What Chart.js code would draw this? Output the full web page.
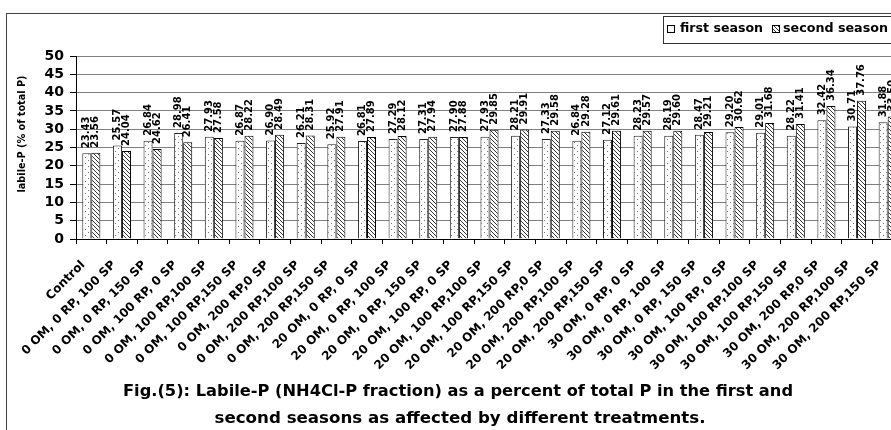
<!DOCTYPE html>
<html><head><meta charset="utf-8">
<script src="https://cdn.jsdelivr.net/npm/chart.js@4.4.1/dist/chart.umd.min.js"></script>
<style>html,body{margin:0;padding:0;overflow:hidden;background:#fff;width:891px;height:430px}canvas{display:block}</style>
</head><body>
<canvas id="c" width="912" height="440"></canvas>
<script>
const categories = [
  'Control',
  '0 OM, 0 RP, 100 SP','0 OM, 0 RP, 150 SP','0 OM, 100 RP, 0 SP','0 OM, 100 RP,100 SP','0 OM, 100 RP,150 SP',
  '0 OM, 200 RP,0 SP','0 OM, 200 RP,100 SP','0 OM, 200 RP,150 SP',
  '20 OM, 0 RP, 0 SP','20 OM, 0 RP, 100 SP','20 OM, 0 RP, 150 SP','20 OM, 100 RP, 0 SP','20 OM, 100 RP,100 SP',
  '20 OM, 100 RP,150 SP','20 OM, 200 RP,0 SP','20 OM, 200 RP,100 SP','20 OM, 200 RP,150 SP',
  '30 OM, 0 RP, 0 SP','30 OM, 0 RP, 100 SP','30 OM, 0 RP, 150 SP','30 OM, 100 RP, 0 SP','30 OM, 100 RP,100 SP',
  '30 OM, 100 RP,150 SP','30 OM, 200 RP,0 SP','30 OM, 200 RP,100 SP','30 OM, 200 RP,150 SP'
];
const firstSeason = [23.43, 25.57, 26.84, 28.98, 27.93, 26.87, 26.90, 26.21, 25.92, 26.81, 27.29, 27.31, 27.90, 27.93, 28.21,
  27.33, 26.84, 27.12, 28.23, 28.19, 28.47, 29.20, 29.01, 28.22, 32.42, 30.71, 31.88];
const secondSeason = [23.56, 24.04, 24.62, 26.41, 27.58, 28.22, 28.49, 28.31, 27.91, 27.89, 28.12, 27.94, 27.88, 29.85, 29.91,
  29.58, 29.28, 29.61, 29.57, 29.60, 29.21, 30.62, 31.68, 31.41, 36.34, 37.76, 33.50];
const seriesNames = ['first season', 'second season'];
const yAxisTitle = 'labile-P (% of total P)';
const captionLines = [
  'Fig.(5): Labile-P (NH4Cl-P fraction) as a percent of total P in the first and',
  'second seasons as affected by different treatments.'
];
const yMin = 0, yMax = 50, yStep = 5;

function makeDots() {
  const c = document.createElement('canvas'); c.width = 6; c.height = 6;
  const g = c.getContext('2d');
  g.fillStyle = '#fff'; g.fillRect(0, 0, 6, 6);
  g.fillStyle = '#777'; g.fillRect(1, 1, 1, 1); g.fillRect(4, 4, 1, 1);
  return g.createPattern(c, 'repeat');
}
function makeHatch() {
  const c = document.createElement('canvas'); c.width = 4; c.height = 4;
  const g = c.getContext('2d');
  g.fillStyle = '#fff'; g.fillRect(0, 0, 4, 4);
  g.fillStyle = '#333';
  for (let i = 0; i < 4; i++) g.fillRect(i, i, 1, 1);
  return g.createPattern(c, 'repeat');
}
const dotFill = makeDots();
const hatchFill = makeHatch();
const FONT = "'DejaVu Sans', 'Liberation Sans', Arial, sans-serif";

function stretchText(ctx, text, x, y, width, align) {
  const w = ctx.measureText(text).width;
  const sx = width / w;
  ctx.save();
  ctx.translate(x, y);
  ctx.scale(sx, 1);
  ctx.textAlign = align;
  ctx.fillText(text, 0, 0);
  ctx.restore();
}

const decorPlugin = {
  id: 'decor',
  beforeDraw(chart) {
    const ctx = chart.ctx;
    ctx.save();
    ctx.fillStyle = '#fff';
    ctx.fillRect(0, 0, chart.width, chart.height);
    ctx.strokeStyle = '#444';
    ctx.lineWidth = 1;
    ctx.strokeRect(6.5, 13.5, 900, 440);
    ctx.restore();
  },
  afterDatasetsDraw(chart) {
    const ctx = chart.ctx;
    ctx.save();
    ctx.fillStyle = '#000';
    ctx.font = 'bold 10px ' + FONT;
    ctx.textAlign = 'left';
    ctx.textBaseline = 'middle';
    chart.data.datasets.forEach((ds, di) => {
      const meta = chart.getDatasetMeta(di);
      meta.data.forEach((el, i) => {
        ctx.save();
        ctx.translate(el.x, el.y - 5);
        ctx.rotate(-Math.PI / 2);
        ctx.fillText(ds.data[i].toFixed(2), 0, 0);
        ctx.restore();
      });
    });
    ctx.restore();
  },
  afterDraw(chart) {
    const ctx = chart.ctx;
    ctx.save();
    ctx.fillStyle = '#000';
    ctx.font = 'bold 11px ' + FONT;
    ctx.textBaseline = 'middle';
    ctx.translate(22, 134);
    ctx.rotate(-Math.PI / 2);
    stretchText(ctx, yAxisTitle, 0, 0, 117, 'center');
    ctx.restore();

    // legend
    ctx.save();
    ctx.strokeStyle = '#333';
    ctx.lineWidth = 1;
    ctx.strokeRect(663.5, 16.5, 260, 27);
    ctx.font = 'bold 13px ' + FONT;
    ctx.textBaseline = 'middle';
    const items = [
      { fill: '#fff', x: 667, tx: 680, w: 83 },
      { fill: hatchFill, x: 772, tx: 783, w: 105 }
    ];
    items.forEach((it, k) => {
      ctx.fillStyle = it.fill;
      ctx.fillRect(it.x, 25, 8, 8);
      ctx.strokeStyle = '#000';
      ctx.strokeRect(it.x + 0.5, 25.5, 7, 7);
      ctx.fillStyle = '#000';
      stretchText(ctx, seriesNames[k], it.tx, 29, it.w, 'left');
    });
    ctx.restore();

    // caption
    ctx.save();
    ctx.fillStyle = '#000';
    ctx.font = 'bold 16px ' + FONT;
    ctx.textBaseline = 'middle';
    stretchText(ctx, captionLines[0], 458, 392, 670, 'center');
    stretchText(ctx, captionLines[1], 460, 419, 491, 'center');
    ctx.restore();
  }
};

new Chart(document.getElementById('c'), {
  type: 'bar',
  data: {
    labels: categories,
    datasets: [
      { label: seriesNames[0], data: firstSeason, backgroundColor: dotFill, borderColor: '#222', borderWidth: 1,
        barPercentage: 1.0, categoryPercentage: 0.59 },
      { label: seriesNames[1], data: secondSeason, backgroundColor: hatchFill, borderColor: '#000', borderWidth: 1,
        barPercentage: 1.0, categoryPercentage: 0.59 }
    ]
  },
  options: {
    responsive: false,
    animation: false,
    events: [],
    layout: { padding: { left: 6, top: 56, right: 7, bottom: 0 } },
    plugins: { legend: { display: false }, title: { display: false }, tooltip: { enabled: false } },
    scales: {
      x: {
        afterFit(scale) { scale.height = 201; },
        border: { color: '#000', width: 1 },
        grid: { display: true, drawOnChartArea: false, drawTicks: true, tickLength: 5, offset: true, tickColor: '#000', color: '#000' },
        ticks: { autoSkip: false, maxRotation: 45, minRotation: 45, padding: 14, labelOffset: -8, color: '#000',
          font: { family: FONT, size: 12, weight: 'bold' } }
      },
      y: {
        min: yMin, max: yMax,
        afterFit(scale) { scale.width = 70; },
        border: { color: '#000', width: 1 },
        grid: { color: '#808080', tickColor: '#000', tickLength: 6, drawTicks: true },
        ticks: { stepSize: yStep, autoSkip: false, padding: 6, color: '#000', font: { family: FONT, size: 14, weight: 'bold' } }
      }
    }
  },
  plugins: [decorPlugin]
});
</script>
</body></html>
